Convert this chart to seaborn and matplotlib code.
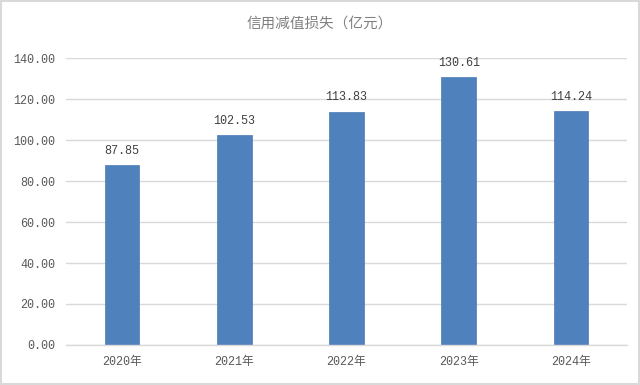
import matplotlib
matplotlib.use("Agg")
import matplotlib.pyplot as plt
import seaborn as sns
import pandas as pd
from matplotlib.patches import Rectangle

years = ["2020年", "2021年", "2022年", "2023年", "2024年"]
values = [87.85, 102.53, 113.83, 130.61, 114.24]
yticks = [0, 20, 40, 60, 80, 100, 120, 140]
title = "信用减值损失（亿元）"

sns.set_theme(style="white")
plt.rcParams['font.family'] = ['Noto Sans CJK SC', 'DejaVu Sans']
numfont = ['Liberation Mono', 'Noto Sans CJK SC']

df = pd.DataFrame({"year": years, "value": values})

fig = plt.figure(figsize=(6.4, 3.85), dpi=100)
ax = fig.add_axes([0.103, 0.104, 0.877, 0.745])
sns.barplot(data=df, x="year", y="value", color="#4f81bd", saturation=1,
            width=0.31, ax=ax, edgecolor="#4a7ab5", linewidth=0.5)

ax.set_ylim(0, 140)
ax.set_yticks(yticks)
ax.set_yticklabels([f"{v:.2f}" for v in yticks], color="#595959", fontsize=8.5,
                   family=numfont)
ax.set_xticks(range(len(years)))
ax.set_xticklabels(years, color="#595959", fontsize=8.5, family=numfont)
ax.tick_params(axis="x", length=0, pad=8)
ax.tick_params(axis="y", length=0, pad=7.5)
ax.set_xlabel("")
ax.set_ylabel("")
ax.yaxis.grid(True, color="#d9d9d9", linewidth=1)
ax.set_axisbelow(True)
for s in ["top", "right", "left"]:
    ax.spines[s].set_visible(False)
ax.spines["bottom"].set_color("#d9d9d9")
ax.spines["bottom"].set_linewidth(1)

for i, v in enumerate(values):
    ax.annotate(f"{v:.2f}", (i, v), xytext=(0, 6), textcoords="offset points",
                ha="center", va="bottom", fontsize=8.5, color="#404040",
                family=numfont)

fig.text(0.5, 0.94, title, ha="center", va="center", fontsize=10.5, color="#808080")
fig.patches.append(Rectangle((0.002, 0.003), 0.996, 0.994, transform=fig.transFigure,
                             fill=False, edgecolor="#d9d9d9", linewidth=1.5))

fig.savefig("out.png", dpi=100)
